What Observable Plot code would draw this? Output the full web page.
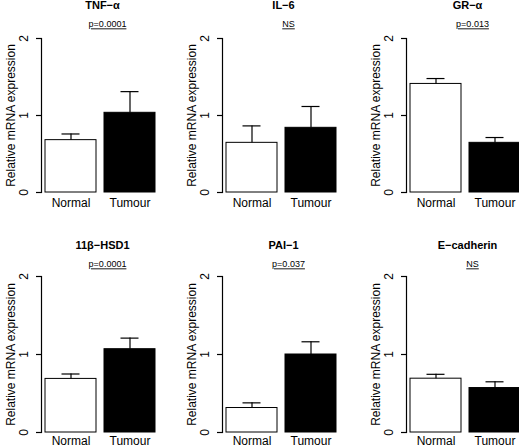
<!DOCTYPE html>
<html>
<head>
<meta charset="utf-8">
<script src="https://cdn.jsdelivr.net/npm/d3@7"></script>
<script src="https://cdn.jsdelivr.net/npm/@observablehq/plot@0.6"></script>
<style>
  body { margin: 0; background: white; }
  #wrap { position: relative; width: 519px; height: 448px; overflow: hidden; background: white; }
  #wrap > div, #wrap > svg { position: absolute; }
</style>
</head>
<body>
<div id="wrap"></div>
<script>
// ---- data ----
const genes = ["TNF\u2212\u03b1", "IL\u22126", "GR\u2212\u03b1", "11\u03b2\u2212HSD1", "PAI\u22121", "E\u2212cadherin"];
const pvalues = ["p=0.0001", "NS", "p=0.013", "p=0.0001", "p=0.037", "NS"];
const groups = ["Normal", "Tumour"];
const normalMean = [0.68, 0.645, 1.41, 0.687, 0.314, 0.69];
const normalErr  = [0.08, 0.22, 0.07, 0.063, 0.066, 0.056];
const tumourMean = [1.035, 0.84, 0.645, 1.068, 1.0, 0.57];
const tumourErr  = [0.275, 0.277, 0.069, 0.142, 0.163, 0.08];
const yTicks = [0, 1, 2];
const yLabel = "Relative mRNA expression";

// ---- layout ----
const lefts = [0, 181, 365];
const rows = [
  {top: 0, plotH: 154, titleDy: -33, pDy: -14, xDy: 6},
  {top: 238, plotH: 156, titleDy: -31, pDy: -12, xDy: 4}
];
const W = 180, mL = 41, mR = 21, mT = 38, mB = 32;
const font = "'Liberation Sans', Arial, Helvetica, sans-serif";

const wrap = document.getElementById("wrap");

genes.forEach((gene, i) => {
  const row = rows[Math.floor(i / 3)];
  const col = i % 3;
  const data = [
    {group: groups[0], mean: normalMean[i], upper: normalMean[i] + normalErr[i]},
    {group: groups[1], mean: tumourMean[i], upper: tumourMean[i] + tumourErr[i]}
  ];
  const H = mT + row.plotH + mB;
  const chart = Plot.plot({
    width: W, height: H,
    marginLeft: mL, marginRight: mR, marginTop: mT, marginBottom: mB,
    style: {fontFamily: font, background: "white", color: "black", overflow: "visible"},
    x: {domain: groups, paddingInner: 8 / 59, paddingOuter: 4 / 59, round: false, axis: null},
    y: {domain: [0, 2], axis: null},
    color: {domain: groups, range: ["white", "black"]},
    marks: [
      Plot.barY(data, {x: "group", y: "mean", fill: "group", stroke: "black", strokeWidth: 1}),
      Plot.ruleX(data, {x: "group", y1: "mean", y2: "upper", stroke: "black", strokeWidth: 1.2}),
      Plot.tickY(data, {x: "group", y: "upper", stroke: "black", strokeWidth: 1.2, insetLeft: 16.5, insetRight: 16.5}),
      Plot.frame({anchor: "left", stroke: "black", strokeWidth: 1.2}),
      Plot.axisY({ticks: yTicks, tickSize: 5, tickFormat: () => "", label: null, stroke: "black", strokeWidth: 1.2}),
      Plot.text(yTicks, {y: d => d, text: d => String(d), frameAnchor: "left", dx: -17, rotate: -90,
        textAnchor: "middle", lineAnchor: "middle", fontSize: 12}),
      Plot.text([yLabel], {text: d => d, frameAnchor: "left", dx: -30, rotate: -90,
        textAnchor: "middle", lineAnchor: "middle", fontSize: 12}),
      Plot.text(groups, {x: d => d, text: d => d, frameAnchor: "bottom", dy: row.xDy, lineAnchor: "top", fontSize: 12}),
      Plot.text([gene], {text: d => d, frameAnchor: "top", dy: row.titleDy, dx: 2, fontSize: 11, fontWeight: "bold", lineAnchor: "middle"}),
      Plot.text([pvalues[i]], {text: d => d, frameAnchor: "top", dy: row.pDy, dx: 7, fontSize: 9, lineAnchor: "middle"})
    ]
  });
  chart.querySelectorAll("text").forEach(t => {
    if (t.textContent === pvalues[i]) {
      t.setAttribute("text-decoration", "underline");
      t.style.textDecoration = "underline";
    }
  });
  chart.style.left = lefts[col] + "px";
  chart.style.top = row.top + "px";
  wrap.appendChild(chart);
});
</script>
</body>
</html>
